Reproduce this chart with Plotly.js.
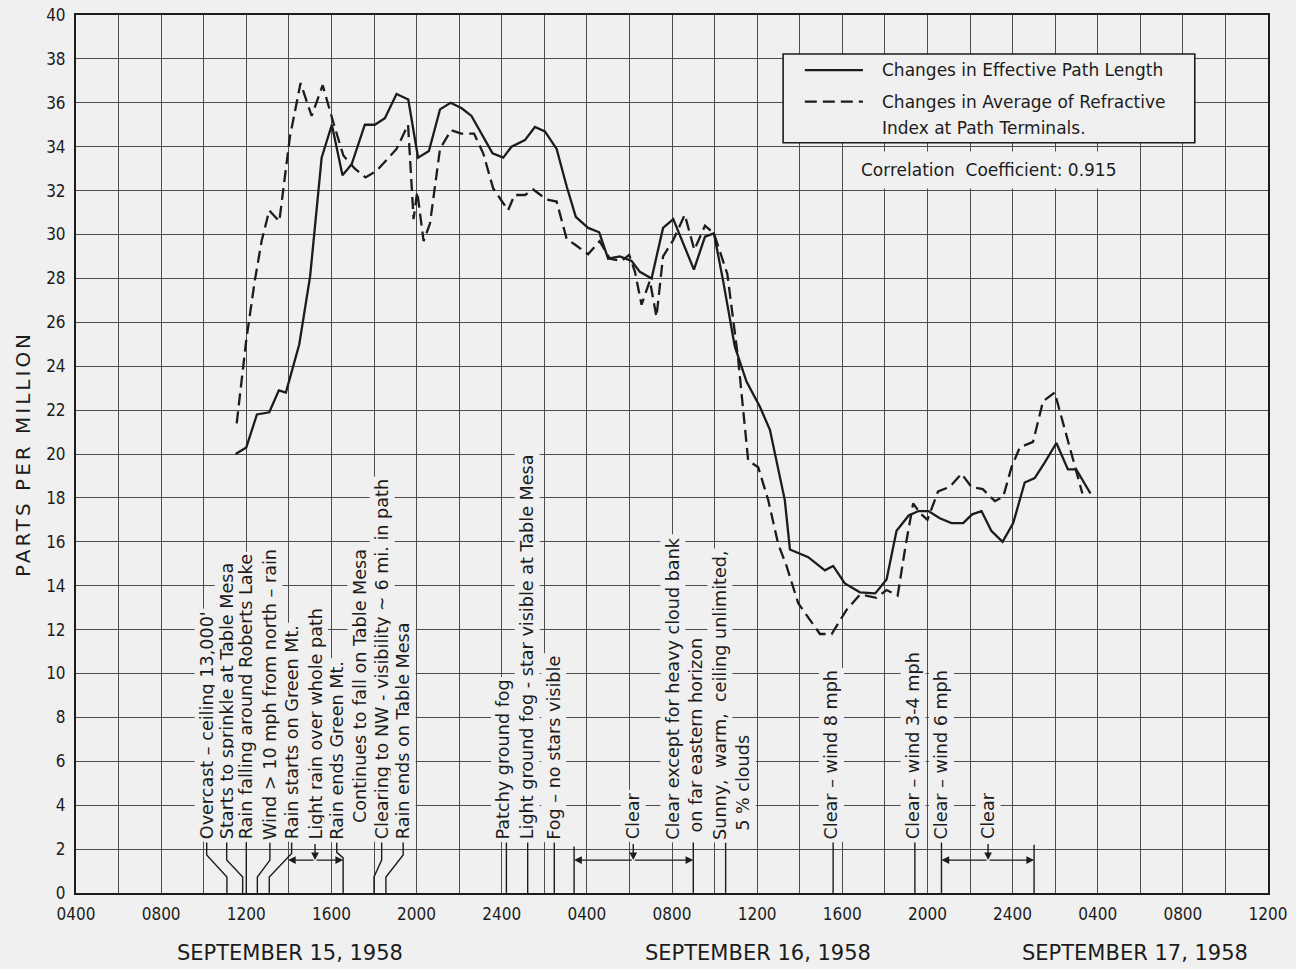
<!DOCTYPE html>
<html>
<head>
<meta charset="utf-8">
<script src="https://cdn.plot.ly/plotly-3.0.1.min.js"></script>
<style>
  html, body { margin: 0; padding: 0; background: #f0f0f0; }
  #chart { width: 1296px; height: 969px; }
  .ytitle { letter-spacing: 3px; }
</style>
</head>
<body>
<div id="chart"></div>
<script>
// Time axis: hours counted from 0000, 15 September 1958.

// Changes in effective path length (parts per million)
const pathHours = [11.5, 12.0, 12.5, 13.08, 13.53, 13.86, 14.49, 15.0, 15.54, 16.02, 16.52, 16.95,
  17.57, 18.04, 18.51, 19.06, 19.61, 20.07, 20.58, 21.1, 21.6, 22.12, 22.58, 23.06, 23.57, 24.07,
  24.46, 25.09, 25.56, 26.03, 26.58, 27.05, 27.48, 28.06, 28.58, 29.0, 29.55, 30.1, 30.49, 31.04,
  31.58, 32.06, 33.03, 33.55, 33.97, 34.4, 34.95, 35.5, 36.13, 36.6, 36.99, 37.3, 37.54, 38.4,
  39.18, 39.57, 40.12, 40.83, 41.55, 42.08, 42.55, 43.12, 43.58, 44.05, 44.58, 45.13, 45.68,
  46.1, 46.54, 47.0, 47.53, 48.03, 48.57, 49.04, 49.5, 50.06, 50.6, 50.99, 51.66];
const pathPpm = [20.0, 20.3, 21.8, 21.9, 22.9, 22.8, 25.0, 28.1, 33.5, 35.0, 32.7, 33.2,
  35.0, 35.0, 35.3, 36.4, 36.15, 33.5, 33.8, 35.7, 36.0, 35.75, 35.4, 34.6, 33.7, 33.5,
  34.0, 34.3, 34.9, 34.7, 33.9, 32.2, 30.8, 30.3, 30.1, 28.9, 29.0, 28.8, 28.3, 28.0,
  30.3, 30.7, 28.4, 29.9, 30.05, 27.9, 24.9, 23.3, 22.15, 21.1, 19.4, 17.9, 15.65, 15.3,
  14.7, 14.9, 14.1, 13.7, 13.65, 14.28, 16.5, 17.2, 17.4, 17.4, 17.07, 16.85, 16.85,
  17.25, 17.4, 16.5, 16.0, 16.85, 18.7, 18.9, 19.6, 20.5, 19.3, 19.3, 18.2];

// Changes in average of refractive index at path terminals (parts per million)
const refrHours = [11.55, 12.0, 12.4, 12.72, 13.08, 13.55, 14.05, 14.55, 15.07, 15.59, 16.09,
  16.56, 17.1, 17.6, 18.12, 19.06, 19.6, 19.86, 20.03, 20.33, 20.63, 21.1, 21.62, 22.1, 22.7,
  23.13, 23.6, 24.3, 24.6, 25.09, 25.48, 26.1, 26.58, 27.05, 27.5, 28.06, 28.6, 29.08, 29.63,
  29.99, 30.26, 30.57, 30.96, 31.27, 31.58, 32.06, 32.6, 33.05, 33.55, 33.97, 34.6, 35.1,
  35.58, 36.05, 36.52, 36.99, 37.38, 37.93, 38.95, 39.5, 40.2, 40.83, 41.6, 42.08, 42.6,
  42.97, 43.33, 43.66, 44.0, 44.5, 45.05, 45.6, 46.07, 46.6, 47.17, 47.56, 47.95, 48.34,
  48.96, 49.43, 49.98, 50.69, 51.28];
const refrPpm = [21.4, 25.2, 27.9, 29.7, 31.1, 30.6, 34.45, 36.9, 35.4, 36.8, 35.1,
  33.6, 33.0, 32.6, 32.9, 33.9, 35.0, 30.7, 31.95, 29.7, 30.5, 33.9, 34.75, 34.6, 34.6,
  33.7, 32.1, 31.1, 31.8, 31.8, 32.05, 31.6, 31.5, 29.8, 29.5, 29.1, 29.7, 28.9, 28.8,
  29.07, 28.3, 26.8, 27.9, 26.25, 29.0, 29.75, 30.9, 29.3, 30.4, 30.05, 28.2, 24.4,
  19.7, 19.4, 17.9, 15.9, 14.9, 13.2, 11.8, 11.8, 12.9, 13.6, 13.45, 13.8, 13.55,
  15.8, 17.75, 17.3, 17.0, 18.3, 18.5, 19.1, 18.5, 18.4, 17.85, 18.05, 19.4, 20.3,
  20.55, 22.4, 22.8, 20.3, 18.2];

const seriesNames = ['Changes in Effective Path Length',
  'Changes in Average of Refractive<br>Index at Path Terminals.'];
const correlationText = 'Correlation  Coefficient: 0.915';

const tickHours = [4, 8, 12, 16, 20, 24, 28, 32, 36, 40, 44, 48, 52, 56, 60];
const tickLabels = ['0400', '0800', '1200', '1600', '2000', '2400', '0400', '0800', '1200',
  '1600', '2000', '2400', '0400', '0800', '1200'];
const dayLabels = ['SEPTEMBER 15, 1958', 'SEPTEMBER 16, 1958', 'SEPTEMBER 17, 1958'];

// Weather log entries written up the chart
const noteText = [
  'Overcast – ceiling 13,000\'',
  'Starts to sprinkle at Table Mesa',
  'Rain falling around Roberts Lake',
  'Wind > 10 mph from north – rain',
  'Rain starts on Green Mt.',
  'Light rain over whole path',
  'Rain ends Green Mt.',
  'Continues to fall on Table Mesa',
  'Clearing to NW - visibility ~ 6 mi. in path',
  'Rain ends on Table Mesa',
  'Patchy ground fog',
  'Light ground fog - star visible at Table Mesa',
  'Fog – no stars visible',
  'Clear',
  'Clear except for heavy cloud bank',
  'on far eastern horizon',
  'Sunny,  warm,  ceiling unlimited,',
  '5 % clouds',
  'Clear – wind 8 mph',
  'Clear – wind 3-4 mph',
  'Clear – wind 6 mph',
  'Clear'
];

// ---- layout helpers -------------------------------------------------------
const BG = '#f0f0f0';
const INK = '#1c1c1c';
const GRID = '#4d4d4d';
const TEXT_FONT = 'DejaVu Sans, Verdana, sans-serif';
const NUM_FONT = 'Liberation Sans Narrow, DejaVu Sans Condensed, Arial Narrow, sans-serif';

// column centre (hours) and starting level (ppm) of each note
const noteCol = [10.14, 11.08, 12.0, 13.11, 14.13, 15.23, 16.25, 17.34, 18.36, 19.37,
  24.06, 25.2, 26.42, 30.18, 32.04, 33.15, 34.25, 35.34, 39.49, 43.33, 44.66, 46.85];
const noteBase = noteText.map((t, i) => (i === 7 ? 3.05 : i === 15 ? 2.62 : i === 17 ? 2.7 : 2.3));

// leader lines from the notes down to the time axis
const leaders = [
  [[10.14, 2.3], [10.14, 1.73], [11.09, 0.73], [11.09, 0]],
  [[11.08, 2.3], [11.08, 1.5], [11.83, 0.73], [11.83, 0]],
  [[12.0, 2.3], [12.0, 0]],
  [[13.11, 2.3], [13.11, 1.5], [12.52, 0.73], [12.52, 0]],
  [[14.13, 2.3], [14.13, 1.8], [13.08, 0.73], [13.08, 0]],
  [[16.25, 2.3], [16.25, 1.85], [16.55, 1.6], [16.55, 0]],
  [[18.36, 2.3], [18.36, 1.5], [18.0, 0.73], [18.0, 0]],
  [[19.37, 2.3], [19.37, 1.73], [18.56, 0.73], [18.56, 0]],
  [[24.22, 2.3], [24.22, 0]],
  [[25.22, 2.3], [25.22, 0]],
  [[26.47, 2.3], [26.47, 0]],
  [[27.4, 2.12], [27.4, 0]],
  [[33.0, 2.3], [33.0, 0]],
  [[34.52, 2.3], [34.52, 0]],
  [[39.57, 2.3], [39.57, 0]],
  [[43.41, 2.3], [43.41, 0]],
  [[44.66, 2.3], [44.66, 0]],
  [[49.01, 2.2], [49.01, 0]]
];
// spans marked with a double arrow: [start, end, note column]
const spans = [[13.96, 16.55, 15.23], [27.4, 33.0, 30.18], [44.66, 49.01, 46.85]];
const SPAN_Y = 1.5;

// ---- build ----------------------------------------------------------------
const gridHours = [];
for (let h = 4; h <= 60; h += 2) gridHours.push(h);
const gridText = gridHours.map(h => {
  const k = tickHours.indexOf(h);
  return k >= 0 ? tickLabels[k] : '';
});

const traces = [
  { x: pathHours, y: pathPpm, name: seriesNames[0], mode: 'lines', type: 'scatter',
    line: { color: INK, width: 2.3 }, hoverinfo: 'x+y' },
  { x: refrHours, y: refrPpm, name: seriesNames[1], mode: 'lines', type: 'scatter',
    line: { color: INK, width: 2.3, dash: '12px,6px' }, hoverinfo: 'x+y' }
];

const shapes = [];
const annotations = [];

leaders.forEach(pts => {
  shapes.push({
    type: 'path', xref: 'x', yref: 'y', layer: 'above',
    path: 'M' + pts.map(p => p[0] + ',' + p[1]).join(' L'),
    line: { color: INK, width: 1.4 }
  });
});

noteText.forEach((t, i) => {
  annotations.push({
    x: noteCol[i], y: noteBase[i], xref: 'x', yref: 'y',
    text: t, textangle: -90, showarrow: false,
    xanchor: 'center', yanchor: 'bottom',
    font: { family: TEXT_FONT, size: 17.6, color: INK },
    bgcolor: BG, borderpad: 2
  });
});

spans.forEach(([a, b, c]) => {
  const arrow = { xref: 'x', yref: 'y', axref: 'x', ayref: 'y', text: '', showarrow: true,
    arrowhead: 2, arrowsize: 1.1, arrowwidth: 1.4, arrowcolor: INK, standoff: 0, startstandoff: 0 };
  annotations.push(Object.assign({}, arrow, { x: a, y: SPAN_Y, ax: c, ay: SPAN_Y }));
  annotations.push(Object.assign({}, arrow, { x: b, y: SPAN_Y, ax: c, ay: SPAN_Y }));
  annotations.push(Object.assign({}, arrow, { x: c, y: SPAN_Y, ax: c, ay: 2.3 }));
});

// key box
shapes.push({ type: 'rect', xref: 'x', yref: 'y', layer: 'above', x0: 37.22, x1: 56.56, y0: 34.18, y1: 38.22,
  fillcolor: BG, line: { color: INK, width: 1.6 } });
shapes.push({ type: 'line', xref: 'x', yref: 'y', layer: 'above', x0: 38.24, x1: 40.97, y0: 37.49, y1: 37.49,
  line: { color: INK, width: 2.3 } });
shapes.push({ type: 'line', xref: 'x', yref: 'y', layer: 'above', x0: 38.24, x1: 40.97, y0: 36.05, y1: 36.05,
  line: { color: INK, width: 2.3, dash: '12px,6px' } });
const keyLines = [seriesNames[0]].concat(seriesNames[1].split('<br>'));
const keyY = [37.49, 36.05, 34.84];
keyLines.forEach((t, i) => {
  annotations.push({ x: 41.78, y: keyY[i], xref: 'x', yref: 'y', text: t, showarrow: false,
    xanchor: 'left', yanchor: 'middle', font: { family: TEXT_FONT, size: 17, color: INK } });
});
annotations.push({ x: 40.45, y: 32.94, xref: 'x', yref: 'y', text: correlationText, showarrow: false,
  xanchor: 'left', yanchor: 'middle', bgcolor: BG, borderpad: 8,
  font: { family: TEXT_FONT, size: 17, color: INK } });

// day captions under the time axis
const dayCentre = [14.05, 36.03, 53.74];
dayLabels.forEach((t, i) => {
  annotations.push({ x: dayCentre[i], y: -0.068, xref: 'x', yref: 'paper', text: t, showarrow: false,
    xanchor: 'center', yanchor: 'middle', font: { family: TEXT_FONT, size: 21, color: INK } });
});

const layout = {
  width: 1296, height: 969,
  margin: { l: 76, r: 28, t: 15, b: 76 },
  paper_bgcolor: BG, plot_bgcolor: BG,
  showlegend: false,
  xaxis: {
    range: [4, 60], tickmode: 'array', tickvals: gridHours, ticktext: gridText,
    showgrid: true, gridcolor: GRID, gridwidth: 1, zeroline: false,
    showline: true, mirror: true, linecolor: INK, linewidth: 2,
    ticks: '', ticklabelstandoff: 5, automargin: false,
    tickfont: { family: NUM_FONT, size: 17, color: INK }
  },
  yaxis: {
    range: [0, 40], tickmode: 'linear', tick0: 0, dtick: 2,
    showgrid: true, gridcolor: GRID, gridwidth: 1, zeroline: false,
    showline: true, mirror: true, linecolor: INK, linewidth: 2,
    ticks: '', ticklabelstandoff: 5, automargin: false,
    tickfont: { family: NUM_FONT, size: 17, color: INK },
    title: { text: 'PARTS PER MILLION', standoff: 10,
      font: { family: TEXT_FONT, size: 20, color: INK } }
  },
  shapes: shapes,
  annotations: annotations
};

Plotly.newPlot('chart', traces, layout, { displayModeBar: false, staticPlot: true });
</script>
</body>
</html>
